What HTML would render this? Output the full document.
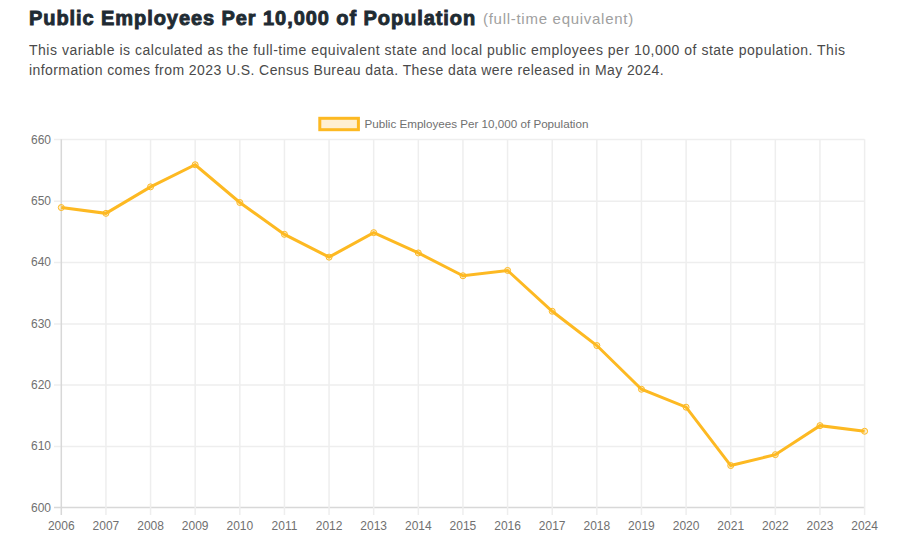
<!DOCTYPE html>
<html><head><meta charset="utf-8"><style>
html,body{margin:0;padding:0;background:#fff;width:906px;height:545px;overflow:hidden;}
.title{position:absolute;left:29px;top:6px;font-family:"Liberation Sans",sans-serif;font-weight:bold;font-size:20px;line-height:24px;letter-spacing:0.93px;color:#1f2b33;-webkit-text-stroke:0.9px #1f2b33;white-space:nowrap;}
.sub{position:absolute;left:483px;top:10px;font-family:"Liberation Sans",sans-serif;font-size:15px;line-height:18px;letter-spacing:0.72px;color:#a0a0a0;white-space:nowrap;}
.desc{position:absolute;left:29px;font-family:"Liberation Sans",sans-serif;font-size:14px;line-height:18px;color:#4a4a4a;white-space:nowrap;}
.d1{top:41px;letter-spacing:0.514px;}
.d2{top:60.5px;letter-spacing:0.418px;}
svg{position:absolute;left:0;top:0;}
.t{font-family:"Liberation Sans",sans-serif;font-size:12px;fill:#707070;}
</style></head><body>
<div class="title">Public Employees Per 10,000 of Population</div>
<div class="sub">(full-time equivalent)</div>
<div class="desc d1">This variable is calculated as the full-time equivalent state and local public employees per 10,000 of state population. This</div>
<div class="desc d2">information comes from 2023 U.S. Census Bureau data. These data were released in May 2024.</div>
<svg width="906" height="545" viewBox="0 0 906 545">
<line x1="54" y1="139.40" x2="864.60" y2="139.40" stroke="#eeeeee" stroke-width="1.5"/>
<line x1="54" y1="201.30" x2="864.60" y2="201.30" stroke="#eeeeee" stroke-width="1.5"/>
<line x1="54" y1="262.40" x2="864.60" y2="262.40" stroke="#eeeeee" stroke-width="1.5"/>
<line x1="54" y1="323.90" x2="864.60" y2="323.90" stroke="#eeeeee" stroke-width="1.5"/>
<line x1="54" y1="384.95" x2="864.60" y2="384.95" stroke="#eeeeee" stroke-width="1.5"/>
<line x1="54" y1="446.55" x2="864.60" y2="446.55" stroke="#eeeeee" stroke-width="1.5"/>
<line x1="54" y1="507.40" x2="864.60" y2="507.40" stroke="#d8d8d8" stroke-width="1.5"/>
<line x1="61.30" y1="139.30" x2="61.30" y2="515" stroke="#d8d8d8" stroke-width="1.5"/>
<line x1="105.93" y1="139.30" x2="105.93" y2="515" stroke="#eeeeee" stroke-width="1.5"/>
<line x1="150.56" y1="139.30" x2="150.56" y2="515" stroke="#eeeeee" stroke-width="1.5"/>
<line x1="195.18" y1="139.30" x2="195.18" y2="515" stroke="#eeeeee" stroke-width="1.5"/>
<line x1="239.81" y1="139.30" x2="239.81" y2="515" stroke="#eeeeee" stroke-width="1.5"/>
<line x1="284.44" y1="139.30" x2="284.44" y2="515" stroke="#eeeeee" stroke-width="1.5"/>
<line x1="329.07" y1="139.30" x2="329.07" y2="515" stroke="#eeeeee" stroke-width="1.5"/>
<line x1="373.69" y1="139.30" x2="373.69" y2="515" stroke="#eeeeee" stroke-width="1.5"/>
<line x1="418.32" y1="139.30" x2="418.32" y2="515" stroke="#eeeeee" stroke-width="1.5"/>
<line x1="462.95" y1="139.30" x2="462.95" y2="515" stroke="#eeeeee" stroke-width="1.5"/>
<line x1="507.58" y1="139.30" x2="507.58" y2="515" stroke="#eeeeee" stroke-width="1.5"/>
<line x1="552.21" y1="139.30" x2="552.21" y2="515" stroke="#eeeeee" stroke-width="1.5"/>
<line x1="596.83" y1="139.30" x2="596.83" y2="515" stroke="#eeeeee" stroke-width="1.5"/>
<line x1="641.46" y1="139.30" x2="641.46" y2="515" stroke="#eeeeee" stroke-width="1.5"/>
<line x1="686.09" y1="139.30" x2="686.09" y2="515" stroke="#eeeeee" stroke-width="1.5"/>
<line x1="730.72" y1="139.30" x2="730.72" y2="515" stroke="#eeeeee" stroke-width="1.5"/>
<line x1="775.34" y1="139.30" x2="775.34" y2="515" stroke="#eeeeee" stroke-width="1.5"/>
<line x1="819.97" y1="139.30" x2="819.97" y2="515" stroke="#eeeeee" stroke-width="1.5"/>
<line x1="864.60" y1="139.30" x2="864.60" y2="515" stroke="#eeeeee" stroke-width="1.5"/>
<text x="51" y="143.60" text-anchor="end" class="t">660</text>
<text x="51" y="204.95" text-anchor="end" class="t">650</text>
<text x="51" y="266.30" text-anchor="end" class="t">640</text>
<text x="51" y="327.65" text-anchor="end" class="t">630</text>
<text x="51" y="389.00" text-anchor="end" class="t">620</text>
<text x="51" y="450.35" text-anchor="end" class="t">610</text>
<text x="51" y="511.70" text-anchor="end" class="t">600</text>
<text x="61.30" y="529.5" text-anchor="middle" class="t">2006</text>
<text x="105.93" y="529.5" text-anchor="middle" class="t">2007</text>
<text x="150.56" y="529.5" text-anchor="middle" class="t">2008</text>
<text x="195.18" y="529.5" text-anchor="middle" class="t">2009</text>
<text x="239.81" y="529.5" text-anchor="middle" class="t">2010</text>
<text x="284.44" y="529.5" text-anchor="middle" class="t">2011</text>
<text x="329.07" y="529.5" text-anchor="middle" class="t">2012</text>
<text x="373.69" y="529.5" text-anchor="middle" class="t">2013</text>
<text x="418.32" y="529.5" text-anchor="middle" class="t">2014</text>
<text x="462.95" y="529.5" text-anchor="middle" class="t">2015</text>
<text x="507.58" y="529.5" text-anchor="middle" class="t">2016</text>
<text x="552.21" y="529.5" text-anchor="middle" class="t">2017</text>
<text x="596.83" y="529.5" text-anchor="middle" class="t">2018</text>
<text x="641.46" y="529.5" text-anchor="middle" class="t">2019</text>
<text x="686.09" y="529.5" text-anchor="middle" class="t">2020</text>
<text x="730.72" y="529.5" text-anchor="middle" class="t">2021</text>
<text x="775.34" y="529.5" text-anchor="middle" class="t">2022</text>
<text x="819.97" y="529.5" text-anchor="middle" class="t">2023</text>
<text x="864.60" y="529.5" text-anchor="middle" class="t">2024</text>
<polyline points="61.30,207.55 105.93,213.35 150.56,186.85 195.18,164.75 239.81,202.50 284.44,234.35 329.07,257.15 373.69,232.65 418.32,252.95 462.95,275.75 507.58,270.45 552.21,311.25 596.83,345.55 641.46,389.25 686.09,407.20 730.72,465.55 775.34,454.65 819.97,425.65 864.60,431.25" fill="none" stroke="#fdb922" stroke-width="3" stroke-linejoin="miter"/>
<circle cx="61.30" cy="207.55" r="3" fill="rgba(253,185,34,0.2)" stroke="#fdb922" stroke-width="1"/>
<circle cx="105.93" cy="213.35" r="3" fill="rgba(253,185,34,0.2)" stroke="#fdb922" stroke-width="1"/>
<circle cx="150.56" cy="186.85" r="3" fill="rgba(253,185,34,0.2)" stroke="#fdb922" stroke-width="1"/>
<circle cx="195.18" cy="164.75" r="3" fill="rgba(253,185,34,0.2)" stroke="#fdb922" stroke-width="1"/>
<circle cx="239.81" cy="202.50" r="3" fill="rgba(253,185,34,0.2)" stroke="#fdb922" stroke-width="1"/>
<circle cx="284.44" cy="234.35" r="3" fill="rgba(253,185,34,0.2)" stroke="#fdb922" stroke-width="1"/>
<circle cx="329.07" cy="257.15" r="3" fill="rgba(253,185,34,0.2)" stroke="#fdb922" stroke-width="1"/>
<circle cx="373.69" cy="232.65" r="3" fill="rgba(253,185,34,0.2)" stroke="#fdb922" stroke-width="1"/>
<circle cx="418.32" cy="252.95" r="3" fill="rgba(253,185,34,0.2)" stroke="#fdb922" stroke-width="1"/>
<circle cx="462.95" cy="275.75" r="3" fill="rgba(253,185,34,0.2)" stroke="#fdb922" stroke-width="1"/>
<circle cx="507.58" cy="270.45" r="3" fill="rgba(253,185,34,0.2)" stroke="#fdb922" stroke-width="1"/>
<circle cx="552.21" cy="311.25" r="3" fill="rgba(253,185,34,0.2)" stroke="#fdb922" stroke-width="1"/>
<circle cx="596.83" cy="345.55" r="3" fill="rgba(253,185,34,0.2)" stroke="#fdb922" stroke-width="1"/>
<circle cx="641.46" cy="389.25" r="3" fill="rgba(253,185,34,0.2)" stroke="#fdb922" stroke-width="1"/>
<circle cx="686.09" cy="407.20" r="3" fill="rgba(253,185,34,0.2)" stroke="#fdb922" stroke-width="1"/>
<circle cx="730.72" cy="465.55" r="3" fill="rgba(253,185,34,0.2)" stroke="#fdb922" stroke-width="1"/>
<circle cx="775.34" cy="454.65" r="3" fill="rgba(253,185,34,0.2)" stroke="#fdb922" stroke-width="1"/>
<circle cx="819.97" cy="425.65" r="3" fill="rgba(253,185,34,0.2)" stroke="#fdb922" stroke-width="1"/>
<circle cx="864.60" cy="431.25" r="3" fill="rgba(253,185,34,0.2)" stroke="#fdb922" stroke-width="1"/>
<rect x="319.8" y="118.3" width="38.6" height="11.4" fill="#fff0d2" stroke="#fdb922" stroke-width="3"/>
<text x="364.5" y="127.8" class="t" style="font-size:11.65px">Public Employees Per 10,000 of Population</text>
</svg>
</body></html>
